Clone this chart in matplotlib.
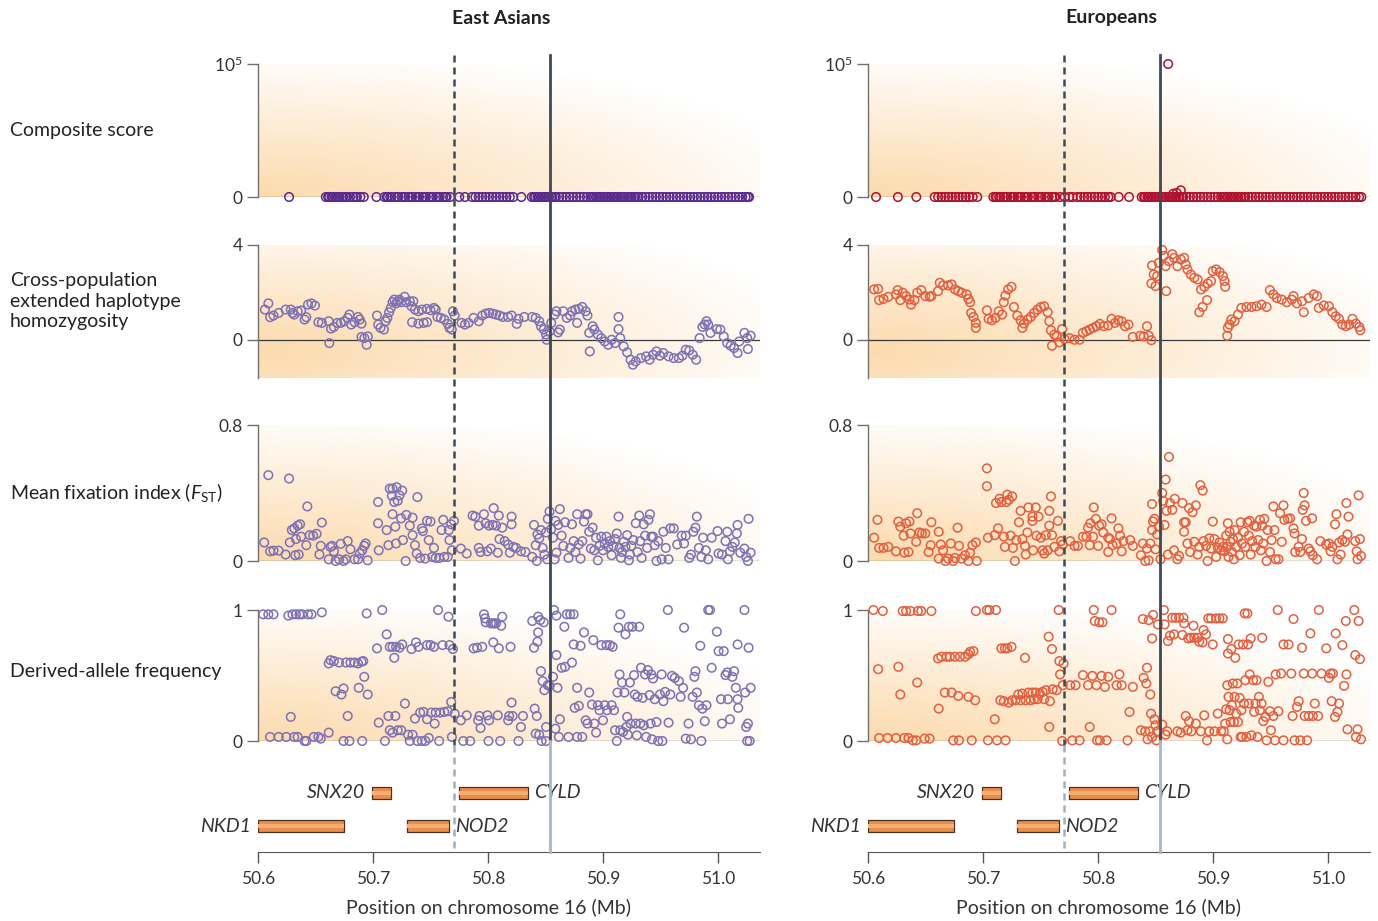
import numpy as np
import matplotlib.pyplot as plt
from matplotlib.patches import Rectangle

plt.rcParams['font.family'] = ['Lato', 'DejaVu Sans']
plt.rcParams['mathtext.fontset'] = 'custom'
plt.rcParams['mathtext.rm'] = 'Lato'
plt.rcParams['mathtext.it'] = 'Lato:italic'
plt.rcParams['mathtext.bf'] = 'Lato:bold'

# ---- data (position in Mb, value) ----
populations = ['East Asians', 'Europeans']
row_labels = ['Composite score', 'Cross-population\nextended haplotype\nhomozygosity',
              r'Mean fixation index ($F_{\mathrm{ST}}$)', 'Derived-allele frequency']
tick_pos = [50.6, 50.7, 50.8, 50.9, 51.0]
tick_lab = ['50.6', '50.7', '50.8', '50.9', '51.0']

# composite score: SNP positions that sit at 0, plus the few non-zero ones
comp_ea_pos = [50.627, 50.659, 50.661, 50.662, 50.664, 50.665, 50.667, 50.668, 50.670, 50.671,
               50.673, 50.674, 50.676, 50.677, 50.680, 50.683, 50.685, 50.686, 50.689, 50.692,
               50.703, 50.710, 50.712, 50.713, 50.715, 50.716, 50.719, 50.721, 50.722, 50.725,
               50.727, 50.728, 50.731, 50.733, 50.734, 50.737, 50.739, 50.740, 50.743, 50.745,
               50.746, 50.749, 50.751, 50.752, 50.755, 50.757, 50.758, 50.761, 50.763, 50.764,
               50.767, 50.775, 50.780, 50.786, 50.789, 50.792, 50.795, 50.798, 50.801, 50.804,
               50.807, 50.810, 50.813, 50.816, 50.819, 50.822, 50.829, 50.838, 50.840, 50.841,
               50.843, 50.844, 50.846, 50.847, 50.849, 50.850, 50.852, 50.853, 50.855, 50.856,
               50.858, 50.859, 50.862, 50.865, 50.868, 50.871, 50.874, 50.877, 50.880, 50.883,
               50.886, 50.889, 50.891, 50.892, 50.894, 50.895, 50.897, 50.898, 50.900, 50.901,
               50.903, 50.904, 50.906, 50.907, 50.909, 50.910, 50.912, 50.913, 50.915, 50.916,
               50.918, 50.919, 50.921, 50.922, 50.924, 50.925, 50.927, 50.928, 50.930, 50.931,
               50.934, 50.937, 50.940, 50.943, 50.946, 50.949, 50.952, 50.955, 50.958, 50.961,
               50.964, 50.967, 50.970, 50.973, 50.976, 50.979, 50.982, 50.985, 50.988, 50.991,
               50.994, 50.997, 51.000, 51.003, 51.006, 51.009, 51.012, 51.015, 51.018, 51.021,
               51.024, 51.026, 51.027]
comp_ea_peaks = []
comp_eu_pos = [50.607, 50.626, 50.642, 50.658, 50.661, 50.664, 50.667, 50.670, 50.673, 50.676,
               50.679, 50.682, 50.685, 50.688, 50.691, 50.695, 50.709, 50.711, 50.712, 50.714,
               50.715, 50.718, 50.720, 50.721, 50.724, 50.726, 50.727, 50.730, 50.732, 50.733,
               50.736, 50.738, 50.739, 50.742, 50.744, 50.745, 50.748, 50.750, 50.751, 50.754,
               50.756, 50.757, 50.760, 50.762, 50.763, 50.767, 50.771, 50.775, 50.778, 50.782,
               50.785, 50.788, 50.791, 50.794, 50.797, 50.800, 50.803, 50.806, 50.809, 50.811,
               50.818, 50.827, 50.838, 50.840, 50.841, 50.843, 50.844, 50.846, 50.847, 50.849,
               50.850, 50.852, 50.853, 50.855, 50.856, 50.858, 50.859, 50.861, 50.862, 50.864,
               50.865, 50.867, 50.868, 50.870, 50.871, 50.873, 50.874, 50.877, 50.880, 50.883,
               50.886, 50.889, 50.892, 50.895, 50.898, 50.901, 50.904, 50.907, 50.909, 50.910,
               50.912, 50.913, 50.915, 50.916, 50.918, 50.919, 50.921, 50.922, 50.924, 50.925,
               50.927, 50.928, 50.931, 50.934, 50.937, 50.940, 50.943, 50.946, 50.949, 50.952,
               50.955, 50.958, 50.961, 50.964, 50.967, 50.970, 50.973, 50.976, 50.979, 50.982,
               50.985, 50.988, 50.991, 50.994, 50.997, 51.000, 51.003, 51.006, 51.009, 51.012,
               51.015, 51.018, 51.021, 51.024, 51.027, 51.029]
comp_eu_peaks = [(50.861, 100000), (50.8655, 2500), (50.8685, 3000), (50.872, 5000)]

xpehh_ea = [(50.606, 1.28), (50.609, 1.54), (50.6105, 0.96), (50.6135, 1.03), (50.618, 1.14),
            (50.624, 1.28), (50.6285, 1.28), (50.630, 1.14), (50.6315, 1.07), (50.6345, 1.21),
            (50.6375, 1.24), (50.6405, 0.86), (50.642, 0.96), (50.6435, 1.49), (50.6465, 1.54),
            (50.6495, 1.45), (50.6525, 0.75), (50.6555, 0.72), (50.6615, 0.79), (50.662, -0.13),
            (50.6635, 0.48), (50.666, 0.55), (50.669, 0.72), (50.672, 0.72), (50.675, 0.79),
            (50.678, 0.93), (50.6795, 1.07), (50.681, 0.65), (50.684, 0.75), (50.687, 0.97),
            (50.6885, 0.86), (50.690, 0.69), (50.690, 0.13), (50.6925, 0.08), (50.6945, -0.20),
            (50.6955, 0.15), (50.7035, 1.03), (50.7045, 0.65), (50.7065, 0.51), (50.7095, 0.44),
            (50.711, 0.79), (50.7125, 0.93), (50.714, 1.17), (50.7155, 1.35), (50.717, 1.59),
            (50.7185, 1.70), (50.720, 1.54), (50.7215, 1.63), (50.723, 1.70), (50.7245, 1.59),
            (50.7275, 1.82), (50.729, 1.59), (50.732, 1.63), (50.7335, 1.42), (50.734, 0.75),
            (50.735, 1.63), (50.7365, 1.28), (50.7395, 1.21), (50.7395, 0.69), (50.7425, 1.28),
            (50.744, 0.72), (50.747, 0.75), (50.747, 1.31), (50.750, 1.25), (50.753, 1.35),
            (50.7545, 1.28), (50.756, 0.97), (50.759, 0.93), (50.762, 0.86), (50.765, 0.68),
            (50.7665, 0.51), (50.7685, 0.44), (50.7695, 1.21), (50.771, 1.03), (50.777, 0.72),
            (50.780, 0.65), (50.783, 0.72), (50.7875, 0.93), (50.792, 0.79), (50.795, 1.03),
            (50.798, 1.11), (50.801, 1.14), (50.804, 1.11), (50.807, 1.07), (50.810, 1.03),
            (50.813, 0.97), (50.8175, 0.97), (50.8205, 1.03), (50.825, 0.68), (50.8265, 0.89),
            (50.8315, 0.97), (50.8385, 0.97), (50.8415, 0.93), (50.8445, 0.79), (50.846, 0.58),
            (50.8485, 0.44), (50.8505, 0.23), (50.851, 0.01), (50.8535, 0.37), (50.855, 0.72),
            (50.858, 1.07), (50.8595, 1.21), (50.861, 0.32), (50.8625, 0.44), (50.8655, 1.21),
            (50.8685, 0.93), (50.8715, 1.03), (50.873, 1.21), (50.876, 1.28), (50.8775, 0.72),
            (50.879, 1.31), (50.882, 1.39), (50.885, 1.21), (50.8865, 1.03), (50.888, 0.30),
            (50.8885, -0.48), (50.891, 0.58), (50.8925, 0.44), (50.8955, 0.23), (50.8985, 0.08),
            (50.9015, -0.06), (50.9045, -0.20), (50.9075, 0.01), (50.9105, -0.13), (50.9135, 0.97),
            (50.9135, 0.46), (50.915, 0.08), (50.918, -0.27), (50.921, -0.52), (50.924, -0.83),
            (50.926, -1.04), (50.9285, -0.90), (50.933, -0.76), (50.9375, -0.69), (50.9405, -0.83),
            (50.9435, -0.62), (50.9465, -0.48), (50.9495, -0.66), (50.9525, -0.55), (50.957, -0.69),
            (50.9615, -0.76), (50.966, -0.76), (50.969, -0.66), (50.972, -0.41), (50.975, -0.44),
            (50.978, -0.62), (50.981, -0.83), (50.984, 0.08), (50.9865, 0.55), (50.9885, 0.65),
            (50.990, 0.79), (50.9915, 0.65), (50.9935, 0.30), (50.999, 0.46), (51.002, 0.44),
            (51.005, 0.15), (51.008, -0.13), (51.011, -0.24), (51.014, -0.34), (51.017, -0.55),
            (51.0185, -0.06), (51.023, 0.30), (51.0254, 0.08), (51.026, -0.38), (51.0284, 0.18)]

xpehh_eu = [(50.6053, 2.13), (50.6088, 2.15), (50.6097, 1.68), (50.6135, 1.73), (50.6176, 1.82),
            (50.6243, 1.92), (50.6258, 2.10), (50.6281, 1.68), (50.6302, 1.99), (50.6331, 1.85),
            (50.636, 1.70), (50.6375, 1.49), (50.6404, 1.68), (50.6428, 1.99), (50.6463, 2.10),
            (50.6498, 1.85), (50.6536, 1.82), (50.6551, 1.85), (50.6609, 2.06), (50.6624, 2.41),
            (50.6653, 2.30), (50.6697, 2.30), (50.6727, 2.34), (50.6756, 2.13), (50.6785, 2.06),
            (50.6815, 1.99), (50.6858, 1.92), (50.6873, 1.73), (50.6888, 1.59), (50.6897, 1.14),
            (50.6917, 0.97), (50.6938, 0.72), (50.6938, 0.51), (50.7034, 1.25), (50.7049, 0.89),
            (50.7078, 0.83), (50.7108, 0.93), (50.7137, 1.21), (50.7166, 1.07), (50.7181, 1.59),
            (50.7195, 1.87), (50.7219, 2.13), (50.7248, 2.24), (50.7269, 1.39), (50.7298, 1.03),
            (50.7327, 0.83), (50.7342, 0.51), (50.7357, 0.69), (50.7386, 0.86), (50.7415, 0.97),
            (50.7444, 1.14), (50.7474, 1.28), (50.7503, 1.39), (50.7532, 1.42), (50.7562, 1.17),
            (50.7576, 0.79), (50.7591, 0.41), (50.760, -0.24), (50.762, 0.23), (50.7641, 0.15),
            (50.7664, -0.10), (50.7688, 0.46), (50.7708, 0.04), (50.7752, 0.08), (50.7796, 0.01),
            (50.784, 0.01), (50.7869, 0.30), (50.7899, 0.37), (50.7928, 0.44), (50.7957, 0.51),
            (50.7987, 0.58), (50.8016, 0.68), (50.8051, 0.58), (50.8089, 0.61), (50.8118, 0.89),
            (50.8148, 0.72), (50.8177, 0.83), (50.8206, 0.79), (50.8235, 0.58), (50.8265, 0.65),
            (50.8303, 0.13), (50.8367, 0.18), (50.8397, 0.15), (50.8426, 0.58), (50.8441, 0.18),
            (50.8464, -0.01), (50.847, 3.14), (50.8464, 2.38), (50.8485, 2.76), (50.850, 2.27),
            (50.8514, 2.69), (50.8529, 3.25), (50.8558, 3.79), (50.8573, 3.54), (50.8588, 3.11),
            (50.8593, 2.06), (50.8617, 3.32), (50.8646, 3.61), (50.8661, 3.46), (50.869, 3.11),
            (50.872, 3.39), (50.8749, 3.46), (50.8763, 3.18), (50.8778, 2.97), (50.8807, 2.76),
            (50.8837, 2.62), (50.8866, 2.55), (50.8881, 1.17), (50.8896, 2.13), (50.891, 1.39),
            (50.8925, 2.24), (50.8948, 1.68), (50.8954, 2.38), (50.8983, 2.48), (50.8998, 2.90),
            (50.9028, 2.97), (50.9057, 2.86), (50.9086, 2.69), (50.9101, 2.48), (50.9106, 2.24),
            (50.9124, 0.18), (50.9129, 0.51), (50.9144, 0.65), (50.9159, 0.86), (50.9188, 0.79),
            (50.9217, 1.07), (50.9247, 1.35), (50.9291, 1.39), (50.9335, 1.39), (50.9378, 1.42),
            (50.9422, 1.49), (50.9466, 1.39), (50.9495, 2.10), (50.9525, 1.92), (50.9554, 1.77),
            (50.9598, 1.70), (50.9642, 1.59), (50.9686, 1.70), (50.970, 1.85), (50.973, 1.54),
            (50.9774, 1.63), (50.9789, 1.17), (50.9832, 1.77), (50.9876, 1.92), (50.9905, 1.85),
            (50.992, 1.35), (50.9964, 1.45), (51.0008, 1.42), (51.0038, 1.17), (51.0067, 1.00),
            (51.0096, 0.89), (51.0125, 0.65), (51.0155, 0.58), (51.0184, 0.65), (51.0213, 0.89),
            (51.0243, 0.69), (51.0272, 0.55), (51.0281, 0.41)]

fst_ea = [(50.6054, 0.109), (50.609, 0.505), (50.6105, 0.057), (50.6135, 0.061), (50.618, 0.061),
          (50.624, 0.038), (50.627, 0.485), (50.6276, 0.109), (50.6294, 0.182), (50.6315, 0.192),
          (50.633, 0.129), (50.6345, 0.208), (50.6366, 0.216), (50.6375, 0.143), (50.6324, 0.034),
          (50.6354, 0.038), (50.642, 0.093), (50.6429, 0.321), (50.645, 0.152), (50.648, 0.149),
          (50.651, 0.160), (50.6534, 0.038), (50.6546, 0.089), (50.6555, 0.226), (50.6615, 0.010),
          (50.663, 0.083), (50.6645, 0.089), (50.666, 0.057), (50.6675, 0.0), (50.6705, 0.010),
          (50.672, 0.101), (50.6744, 0.0), (50.6765, 0.010), (50.678, 0.117), (50.6804, 0.069),
          (50.684, 0.010), (50.687, 0.010), (50.6885, 0.044), (50.6906, 0.063), (50.6924, 0.089),
          (50.6936, 0.103), (50.6954, 0.004), (50.7044, 0.347), (50.7044, 0.222), (50.705, 0.063),
          (50.7119, 0.182), (50.7134, 0.093), (50.7146, 0.426), (50.717, 0.426), (50.7164, 0.384),
          (50.717, 0.275), (50.7185, 0.347), (50.7194, 0.202), (50.720, 0.103), (50.7206, 0.434),
          (50.7215, 0.354), (50.723, 0.386), (50.7245, 0.251), (50.7254, 0.414), (50.726, 0.123),
          (50.7284, 0.0), (50.729, 0.271), (50.732, 0.208), (50.7344, 0.255), (50.7344, 0.152),
          (50.7365, 0.093), (50.738, 0.044), (50.7386, 0.376), (50.741, 0.018), (50.7425, 0.192),
          (50.7434, 0.176), (50.7455, 0.014), (50.747, 0.236), (50.7485, 0.123), (50.750, 0.232),
          (50.7515, 0.024), (50.753, 0.077), (50.7545, 0.018), (50.7575, 0.018), (50.7596, 0.182),
          (50.7611, 0.242), (50.762, 0.024), (50.765, 0.024), (50.7659, 0.182), (50.7665, 0.123),
          (50.768, 0.216), (50.7686, 0.063), (50.7704, 0.236), (50.7764, 0.073), (50.7815, 0.044),
          (50.7866, 0.267), (50.789, 0.261), (50.792, 0.208), (50.792, 0.077), (50.7935, 0.053),
          (50.7965, 0.275), (50.798, 0.222), (50.7995, 0.057), (50.801, 0.208), (50.8025, 0.073),
          (50.804, 0.212), (50.8049, 0.311), (50.807, 0.208), (50.8085, 0.049), (50.8094, 0.267),
          (50.810, 0.129), (50.8124, 0.196), (50.8145, 0.117), (50.8175, 0.097), (50.819, 0.049),
          (50.8205, 0.261), (50.8205, 0.216), (50.822, 0.083), (50.8244, 0.077), (50.8286, 0.057),
          (50.8325, 0.053), (50.8385, 0.024), (50.840, 0.212), (50.8415, 0.093), (50.8424, 0.0),
          (50.843, 0.156), (50.8445, 0.133), (50.846, 0.182), (50.8475, 0.077), (50.849, 0.038),
          (50.8505, 0.168), (50.8514, 0.010), (50.852, 0.248), (50.8535, 0.291), (50.855, 0.188),
          (50.8565, 0.137), (50.858, 0.010), (50.8586, 0.236), (50.8595, 0.049), (50.861, 0.212),
          (50.8625, 0.305), (50.864, 0.149), (50.8655, 0.089), (50.867, 0.228), (50.870, 0.018),
          (50.8715, 0.077), (50.873, 0.216), (50.8745, 0.117), (50.876, 0.053), (50.8775, 0.275),
          (50.879, 0.097), (50.8805, 0.014), (50.882, 0.117), (50.8835, 0.232), (50.885, 0.275),
          (50.8865, 0.275), (50.888, 0.172), (50.8895, 0.073), (50.891, 0.196), (50.8925, 0.063),
          (50.894, 0.137), (50.8955, 0.004), (50.897, 0.089), (50.8985, 0.143), (50.900, 0.063),
          (50.9015, 0.103), (50.903, 0.143), (50.9045, 0.083), (50.906, 0.117), (50.9075, 0.034),
          (50.909, 0.089), (50.9105, 0.129), (50.912, 0.162), (50.9135, 0.261), (50.9144, 0.077),
          (50.9156, 0.018), (50.9165, 0.053), (50.918, 0.113), (50.9195, 0.083), (50.921, 0.152),
          (50.9225, 0.004), (50.9234, 0.038), (50.9246, 0.089), (50.9264, 0.123), (50.9285, 0.222),
          (50.930, 0.053), (50.9315, 0.267), (50.9324, 0.117), (50.9336, 0.018), (50.9354, 0.216),
          (50.9366, 0.149), (50.9384, 0.077), (50.9396, 0.242), (50.9408, 0.275), (50.942, 0.143),
          (50.9435, 0.143), (50.945, 0.093), (50.9465, 0.0), (50.948, 0.117), (50.951, 0.010),
          (50.9525, 0.172), (50.9546, 0.077), (50.957, 0.010), (50.9585, 0.192), (50.9615, 0.192),
          (50.9645, 0.097), (50.9684, 0.149), (50.9705, 0.103), (50.972, 0.149), (50.975, 0.018),
          (50.9765, 0.038), (50.9786, 0.172), (50.9804, 0.196), (50.9816, 0.261), (50.9834, 0.077),
          (50.9855, 0.024), (50.987, 0.137), (50.9894, 0.063), (50.9915, 0.010), (50.9945, 0.137),
          (50.9996, 0.176), (51.0005, 0.044), (51.0035, 0.038), (51.0065, 0.117), (51.008, 0.172),
          (51.0086, 0.010), (51.0104, 0.057), (51.0125, 0.083), (51.0146, 0.109), (51.0164, 0.162),
          (51.017, 0.212), (51.0194, 0.049), (51.023, 0.073), (51.0245, 0.024), (51.026, 0.0),
          (51.0266, 0.248), (51.0284, 0.049)]

fst_eu = [(50.6053, 0.137), (50.6082, 0.242), (50.6097, 0.077), (50.6135, 0.077), (50.6176, 0.083),
          (50.6243, 0.057), (50.6264, 0.232), (50.6281, 0.202), (50.631, 0.149), (50.6316, 0.049),
          (50.6331, 0.222), (50.6352, 0.053), (50.636, 0.232), (50.637, 0.162), (50.6419, 0.113),
          (50.6428, 0.281), (50.6448, 0.168), (50.6469, 0.162), (50.6498, 0.162), (50.6527, 0.053),
          (50.6545, 0.093), (50.6551, 0.228), (50.6615, 0.172), (50.6615, 0.014), (50.6633, 0.097),
          (50.6653, 0.063), (50.6674, 0.0), (50.6697, 0.014), (50.672, 0.103), (50.6741, 0.0),
          (50.6756, 0.018), (50.6779, 0.196), (50.6791, 0.089), (50.6815, 0.014), (50.6844, 0.034),
          (50.6873, 0.0), (50.6888, 0.049), (50.6908, 0.093), (50.6938, 0.109), (50.6946, 0.0),
          (50.7034, 0.545), (50.7034, 0.440), (50.7043, 0.137), (50.7102, 0.152), (50.7113, 0.341),
          (50.7131, 0.192), (50.7143, 0.366), (50.716, 0.347), (50.7181, 0.143), (50.719, 0.083),
          (50.7202, 0.347), (50.7211, 0.390), (50.7225, 0.360), (50.724, 0.149), (50.7254, 0.380),
          (50.726, 0.077), (50.7277, 0.0), (50.7289, 0.123), (50.7313, 0.228), (50.7327, 0.295),
          (50.7342, 0.129), (50.7365, 0.089), (50.7371, 0.038), (50.7386, 0.168), (50.7395, 0.315),
          (50.743, 0.261), (50.743, 0.236), (50.7436, 0.063), (50.7459, 0.315), (50.7465, 0.149),
          (50.7483, 0.261), (50.7503, 0.137), (50.7518, 0.063), (50.7532, 0.044), (50.7547, 0.152),
          (50.7562, 0.063), (50.7576, 0.295), (50.7576, 0.208), (50.7591, 0.380), (50.760, 0.152),
          (50.762, 0.083), (50.7652, 0.236), (50.7664, 0.057), (50.7679, 0.117), (50.7694, 0.097),
          (50.7758, 0.117), (50.7796, 0.089), (50.7825, 0.089), (50.7869, 0.143), (50.7899, 0.143),
          (50.7913, 0.196), (50.7928, 0.093), (50.7934, 0.222), (50.7957, 0.143), (50.7963, 0.315),
          (50.7981, 0.248), (50.8001, 0.089), (50.801, 0.208), (50.8031, 0.216), (50.8045, 0.168),
          (50.8089, 0.053), (50.8089, 0.137), (50.8104, 0.129), (50.8118, 0.251), (50.8127, 0.093),
          (50.8162, 0.103), (50.8177, 0.192), (50.8192, 0.149), (50.8206, 0.057), (50.8221, 0.117),
          (50.828, 0.123), (50.8303, 0.089), (50.8373, 0.034), (50.839, 0.103), (50.8411, 0.0),
          (50.8426, 0.073), (50.8441, 0.004), (50.8455, 0.103), (50.847, 0.335), (50.847, 0.182),
          (50.8479, 0.232), (50.8491, 0.248), (50.850, 0.069), (50.8514, 0.156), (50.8529, 0.202),
          (50.8543, 0.010), (50.8558, 0.400), (50.8567, 0.354), (50.8579, 0.212), (50.8588, 0.479),
          (50.8596, 0.295), (50.8608, 0.038), (50.8617, 0.612), (50.8626, 0.341), (50.8646, 0.301),
          (50.8661, 0.063), (50.8667, 0.366), (50.869, 0.010), (50.8705, 0.030), (50.8734, 0.341),
          (50.8749, 0.228), (50.8749, 0.172), (50.8763, 0.228), (50.8778, 0.103), (50.8792, 0.311),
          (50.8801, 0.053), (50.8822, 0.287), (50.8837, 0.113), (50.8851, 0.327), (50.8866, 0.038),
          (50.8881, 0.083), (50.889, 0.446), (50.891, 0.414), (50.8918, 0.117), (50.8939, 0.089),
          (50.8953, 0.0), (50.8968, 0.133), (50.8983, 0.073), (50.8998, 0.232), (50.9012, 0.129),
          (50.9027, 0.024), (50.9041, 0.077), (50.9056, 0.109), (50.9071, 0.063), (50.9085, 0.083),
          (50.910, 0.057), (50.9115, 0.149), (50.9124, 0.083), (50.9129, 0.222), (50.9135, 0.024),
          (50.9144, 0.172), (50.9153, 0.113), (50.9164, 0.053), (50.9173, 0.129), (50.9182, 0.010),
          (50.9188, 0.182), (50.9202, 0.083), (50.9217, 0.137), (50.9232, 0.034), (50.9241, 0.228),
          (50.9252, 0.103), (50.927, 0.172), (50.9281, 0.083), (50.9299, 0.228), (50.9311, 0.149),
          (50.9319, 0.236), (50.9328, 0.038), (50.934, 0.117), (50.9358, 0.208), (50.9369, 0.083),
          (50.9378, 0.202), (50.9393, 0.123), (50.9408, 0.242), (50.9416, 0.063), (50.9428, 0.208),
          (50.9437, 0.103), (50.9446, 0.248), (50.9466, 0.0), (50.9475, 0.182), (50.9495, 0.053),
          (50.951, 0.123), (50.9525, 0.321), (50.9534, 0.182), (50.9545, 0.010), (50.9569, 0.010),
          (50.9583, 0.281), (50.9598, 0.113), (50.9613, 0.327), (50.9621, 0.242), (50.9651, 0.248),
          (50.9671, 0.251), (50.970, 0.192), (50.9709, 0.162), (50.9715, 0.053), (50.9745, 0.083),
          (50.9759, 0.053), (50.9774, 0.129), (50.978, 0.301), (50.9789, 0.400), (50.9797, 0.327),
          (50.9809, 0.236), (50.9832, 0.073), (50.9847, 0.057), (50.9862, 0.251), (50.9868, 0.034),
          (50.9905, 0.010), (50.9934, 0.117), (50.9984, 0.097), (51.0008, 0.103), (51.0023, 0.057),
          (51.0038, 0.083), (51.0061, 0.216), (51.0073, 0.275), (51.0082, 0.010), (51.0096, 0.109),
          (51.011, 0.038), (51.0125, 0.123), (51.0148, 0.113), (51.016, 0.341), (51.0169, 0.156),
          (51.0178, 0.261), (51.0237, 0.117), (51.0249, 0.057), (51.0257, 0.010), (51.0266, 0.386),
          (51.0278, 0.129), (51.0287, 0.030)]

daf_ea = [(50.6045, 0.967), (50.609, 0.967), (50.6135, 0.967), (50.6105, 0.031), (50.618, 0.031),
          (50.6246, 0.031), (50.6264, 0.957), (50.6285, 0.184), (50.630, 0.967), (50.6315, 0.031),
          (50.633, 0.967), (50.6345, 0.031), (50.636, 0.967), (50.6384, 0.967), (50.6405, 0.0),
          (50.642, 0.0), (50.6435, 0.967), (50.6465, 0.967), (50.6486, 0.031), (50.6525, 0.031),
          (50.6546, 0.018), (50.6555, 0.982), (50.6615, 0.064), (50.6615, 0.592), (50.663, 0.617),
          (50.666, 0.610), (50.6675, 0.380), (50.6705, 0.599), (50.6726, 0.355), (50.6744, 0.401),
          (50.6744, 0.0), (50.6765, 0.599), (50.678, 0.191), (50.6795, 0.0), (50.6804, 0.599),
          (50.684, 0.599), (50.687, 0.592), (50.6876, 0.406), (50.690, 0.605), (50.6906, 0.0),
          (50.6915, 0.610), (50.6924, 0.490), (50.6945, 0.974), (50.6954, 0.355), (50.7035, 0.707),
          (50.705, 0.140), (50.708, 1.0), (50.7104, 0.0), (50.7119, 0.814), (50.7134, 0.191),
          (50.7146, 0.719), (50.7146, 0.082), (50.717, 0.719), (50.717, 0.064), (50.7185, 0.635),
          (50.7194, 0.191), (50.720, 0.719), (50.7215, 0.082), (50.723, 0.712), (50.7245, 0.082),
          (50.7254, 0.737), (50.7278, 0.286), (50.7305, 0.048), (50.732, 0.0), (50.7335, 0.702),
          (50.7344, 0.048), (50.7365, 0.171), (50.7374, 0.753), (50.7386, 0.0), (50.7395, 0.719),
          (50.741, 0.217), (50.7425, 0.0), (50.744, 0.222), (50.7455, 0.0), (50.747, 0.732),
          (50.747, 0.166), (50.7485, 0.023), (50.750, 0.732), (50.7506, 0.217), (50.753, 0.719),
          (50.7536, 0.133), (50.7545, 0.217), (50.7566, 1.0), (50.7575, 0.0), (50.7584, 0.217),
          (50.7605, 0.732), (50.762, 0.222), (50.765, 0.227), (50.7656, 0.949), (50.7665, 0.732),
          (50.768, 0.298), (50.7686, 0.031), (50.7695, 0.702), (50.771, 0.209), (50.7764, 0.158),
          (50.7785, 0.0), (50.7815, 0.196), (50.7845, 0.0), (50.7875, 0.707), (50.7905, 0.712),
          (50.7914, 0.158), (50.7926, 0.191), (50.7935, 0.099), (50.795, 0.719), (50.7965, 0.967),
          (50.7974, 0.936), (50.798, 0.906), (50.7995, 0.196), (50.8004, 0.0), (50.801, 0.158),
          (50.8025, 0.898), (50.804, 0.898), (50.8046, 0.753), (50.8055, 0.898), (50.807, 0.898),
          (50.8085, 0.196), (50.8094, 0.707), (50.8106, 0.0), (50.8115, 0.880), (50.8124, 0.949),
          (50.8175, 0.158), (50.8184, 0.191), (50.8196, 0.719), (50.8205, 0.293), (50.8214, 0.191),
          (50.8265, 0.0), (50.8286, 0.107), (50.8304, 0.191), (50.8385, 0.916), (50.840, 0.712),
          (50.8406, 0.247), (50.8415, 0.056), (50.8424, 0.191), (50.843, 0.758), (50.8436, 0.949),
          (50.8436, 0.829), (50.8445, 0.048), (50.8454, 0.923), (50.846, 0.533), (50.8466, 0.0),
          (50.8475, 0.457), (50.8484, 0.906), (50.849, 0.388), (50.8505, 0.107), (50.8505, 0.0),
          (50.852, 0.426), (50.8535, 0.421), (50.8565, 0.490), (50.8574, 1.0), (50.8586, 0.094),
          (50.8595, 0.957), (50.8595, 0.656), (50.8604, 0.406), (50.8616, 0.031), (50.8625, 0.166),
          (50.864, 0.559), (50.8664, 0.872), (50.867, 0.566), (50.8685, 0.967), (50.870, 0.031),
          (50.8715, 0.967), (50.873, 0.599), (50.8745, 0.967), (50.8745, 0.737), (50.8754, 0.253),
          (50.8775, 0.406), (50.8775, 0.031), (50.879, 0.268), (50.8805, 0.727), (50.882, 0.031),
          (50.8835, 0.829), (50.885, 0.158), (50.8865, 0.133), (50.888, 0.370), (50.8904, 0.278),
          (50.8916, 0.770), (50.8925, 0.133), (50.894, 0.064), (50.8955, 0.273), (50.897, 0.235),
          (50.8985, 0.732), (50.900, 0.158), (50.9015, 0.273), (50.903, 0.732), (50.9036, 0.235),
          (50.906, 0.732), (50.9075, 0.273), (50.9084, 0.719), (50.9096, 0.235), (50.9105, 0.082),
          (50.912, 0.0), (50.9126, 0.370), (50.9135, 0.865), (50.9144, 0.508), (50.915, 0.967),
          (50.915, 0.082), (50.9165, 0.446), (50.9174, 0.069), (50.9186, 0.370), (50.9195, 0.814),
          (50.9204, 0.107), (50.921, 0.184), (50.9216, 0.048), (50.9225, 0.872), (50.9234, 0.446),
          (50.924, 0.133), (50.9255, 0.872), (50.927, 0.503), (50.9276, 0.355), (50.9285, 0.133),
          (50.9294, 0.043), (50.930, 0.337), (50.9315, 0.872), (50.9324, 0.133), (50.933, 0.559),
          (50.9345, 0.329), (50.9354, 0.120), (50.9366, 0.508), (50.9375, 0.031), (50.939, 0.541),
          (50.9405, 0.350), (50.9414, 0.133), (50.942, 0.508), (50.9426, 0.013), (50.9435, 0.477),
          (50.945, 0.319), (50.9465, 0.145), (50.948, 0.0), (50.9495, 0.355), (50.951, 0.508),
          (50.9516, 0.0), (50.9525, 0.304), (50.954, 0.375), (50.9564, 1.0), (50.957, 0.140),
          (50.9585, 0.355), (50.960, 0.497), (50.9624, 0.482), (50.966, 0.457), (50.9675, 0.337),
          (50.9696, 0.406), (50.9705, 0.865), (50.972, 0.018), (50.9744, 0.133), (50.9765, 0.013),
          (50.978, 0.337), (50.9795, 0.490), (50.9804, 0.533), (50.9816, 0.370), (50.9834, 0.273),
          (50.9846, 0.727), (50.9855, 0.0), (50.9864, 0.247), (50.9885, 0.151), (50.990, 0.273),
          (50.9915, 1.0), (50.993, 1.0), (50.9945, 0.559), (50.999, 0.834), (51.0005, 0.686),
          (51.0026, 0.319), (51.0035, 0.133), (51.005, 0.686), (51.0065, 0.503), (51.008, 0.523),
          (51.0086, 0.319), (51.0104, 0.166), (51.0125, 0.490), (51.014, 0.533), (51.0155, 0.406),
          (51.017, 0.737), (51.017, 0.319), (51.0176, 0.253), (51.023, 1.0), (51.0236, 0.370),
          (51.0245, 0.107), (51.0254, 0.0), (51.026, 0.133), (51.0266, 0.712), (51.0275, 0.0),
          (51.0284, 0.406)]

daf_eu = [(50.6047, 1.0), (50.6088, 0.548), (50.6097, 0.023), (50.6129, 0.992), (50.617, 0.023),
          (50.6243, 0.023), (50.6264, 0.566), (50.6281, 0.355), (50.6302, 0.992), (50.6316, 0.023),
          (50.6331, 0.992), (50.6352, 0.023), (50.637, 0.992), (50.639, 0.005), (50.6419, 0.005),
          (50.6428, 0.446), (50.6434, 0.992), (50.6463, 0.992), (50.6492, 0.018), (50.6536, 0.018),
          (50.6551, 0.992), (50.6609, 0.630), (50.6615, 0.247), (50.6638, 0.643), (50.6668, 0.370),
          (50.6683, 0.643), (50.6712, 0.643), (50.6727, 0.370), (50.6741, 0.005), (50.6756, 0.643),
          (50.6785, 0.344), (50.6791, 0.005), (50.680, 0.643), (50.6844, 0.643), (50.6873, 0.661),
          (50.6873, 0.337), (50.6888, 0.681), (50.6902, 0.005), (50.6917, 0.686), (50.6932, 0.311),
          (50.6938, 0.992), (50.7034, 1.0), (50.7043, 0.005), (50.7055, 1.0), (50.7102, 0.166),
          (50.7113, 1.0), (50.7122, 0.005), (50.7151, 0.311), (50.716, 0.707), (50.7181, 0.304),
          (50.719, 0.707), (50.7196, 0.005), (50.7211, 0.707), (50.7225, 0.293), (50.7248, 0.719),
          (50.7254, 0.311), (50.7283, 0.311), (50.7307, 0.355), (50.7327, 0.311), (50.7342, 0.362),
          (50.7365, 0.635), (50.7371, 0.311), (50.7395, 0.370), (50.7415, 0.311), (50.743, 0.370),
          (50.7444, 0.319), (50.7459, 0.370), (50.7474, 0.319), (50.7494, 0.362), (50.7518, 0.375),
          (50.7532, 0.319), (50.7547, 0.388), (50.7571, 0.796), (50.7576, 0.107), (50.7582, 0.304),
          (50.760, 0.702), (50.7606, 0.395), (50.7641, 0.388), (50.7658, 1.0), (50.7664, 0.610),
          (50.767, 0.508), (50.7688, 0.0), (50.7694, 0.426), (50.770, 0.592), (50.7758, 0.426),
          (50.7776, 0.005), (50.7805, 0.426), (50.784, 0.005), (50.7869, 0.503), (50.7913, 0.426),
          (50.7928, 0.107), (50.7951, 0.497), (50.7963, 1.0), (50.7972, 0.916), (50.7987, 0.426),
          (50.7992, 0.005), (50.801, 0.906), (50.8016, 0.005), (50.8031, 0.497), (50.8039, 0.906),
          (50.806, 0.413), (50.8075, 0.005), (50.8089, 0.490), (50.8118, 1.0), (50.8162, 0.426),
          (50.8186, 0.508), (50.8206, 0.426), (50.8256, 0.005), (50.8274, 0.222), (50.8303, 0.413),
          (50.8373, 0.082), (50.839, 0.931), (50.8397, 0.482), (50.8411, 0.074), (50.842, 0.439),
          (50.8426, 0.559), (50.8431, 0.013), (50.8441, 0.923), (50.845, 0.074), (50.8455, 0.355),
          (50.8461, 0.209), (50.847, 0.783), (50.847, 0.031), (50.8479, 0.962), (50.8491, 0.166),
          (50.850, 0.120), (50.8508, 0.005), (50.8514, 0.074), (50.852, 0.890), (50.8558, 0.125),
          (50.8573, 1.0), (50.8579, 0.890), (50.8588, 0.048), (50.8602, 0.074), (50.8608, 0.763),
          (50.8626, 0.804), (50.8646, 0.941), (50.8661, 0.814), (50.8675, 0.941), (50.869, 0.074),
          (50.8705, 0.941), (50.8719, 0.064), (50.8734, 0.809), (50.8743, 0.941), (50.8749, 0.898),
          (50.8763, 0.191), (50.8778, 0.082), (50.8784, 0.783), (50.8792, 0.151), (50.8807, 0.788),
          (50.8812, 0.074), (50.883, 0.880), (50.8836, 0.788), (50.8851, 0.133), (50.8866, 0.788),
          (50.888, 0.758), (50.8895, 0.074), (50.891, 0.753), (50.8918, 0.847), (50.8924, 0.196),
          (50.8939, 0.814), (50.8948, 0.005), (50.8959, 0.936), (50.8968, 0.074), (50.8983, 0.936),
          (50.8998, 0.737), (50.9012, 0.074), (50.9027, 0.936), (50.9041, 0.209), (50.9056, 0.936),
          (50.9071, 0.074), (50.9085, 0.936), (50.9094, 0.074), (50.9106, 0.133), (50.9115, 0.242),
          (50.9124, 0.426), (50.9124, 0.013), (50.913, 0.778), (50.913, 0.668), (50.9135, 0.337),
          (50.9144, 0.235), (50.9153, 0.145), (50.9159, 0.702), (50.9164, 0.273), (50.9173, 0.439),
          (50.9182, 0.145), (50.9188, 0.337), (50.9194, 0.635), (50.9202, 0.209), (50.9211, 0.439),
          (50.9217, 0.145), (50.9223, 0.737), (50.9232, 0.329), (50.9241, 0.031), (50.9247, 0.235),
          (50.9252, 0.031), (50.9261, 0.737), (50.927, 0.286), (50.9276, 0.974), (50.9281, 0.464),
          (50.929, 0.031), (50.9299, 0.974), (50.9305, 0.737), (50.9311, 0.286), (50.9319, 0.508),
          (50.9328, 0.783), (50.9334, 0.043), (50.9349, 0.464), (50.9358, 0.222), (50.9369, 0.286),
          (50.9378, 0.464), (50.9387, 0.031), (50.9399, 0.337), (50.9408, 0.235), (50.9422, 0.286),
          (50.9428, 0.788), (50.9437, 0.151), (50.9457, 0.184), (50.9466, 0.005), (50.9481, 0.452),
          (50.9495, 0.227), (50.9504, 0.082), (50.9525, 0.191), (50.9539, 0.005), (50.9545, 0.508),
          (50.9563, 1.0), (50.9569, 0.227), (50.9592, 0.515), (50.9613, 0.005), (50.9613, 0.737),
          (50.9657, 0.737), (50.9681, 0.515), (50.9692, 0.191), (50.970, 0.931), (50.9709, 0.005),
          (50.973, 0.260), (50.9745, 0.304), (50.9759, 0.005), (50.9774, 0.712), (50.9789, 0.515),
          (50.9797, 0.191), (50.9818, 0.005), (50.9832, 0.191), (50.9847, 0.821), (50.9862, 0.515),
          (50.9868, 0.191), (50.9885, 0.286), (50.9914, 0.191), (50.992, 1.0), (50.9943, 0.515),
          (50.9985, 0.707), (51.0008, 0.482), (51.0023, 0.515), (51.0032, 0.304), (51.0043, 0.515),
          (51.0061, 0.184), (51.0067, 0.821), (51.0082, 0.222), (51.0096, 0.286), (51.0125, 0.732),
          (51.014, 0.421), (51.0155, 0.916), (51.016, 0.508), (51.0169, 0.089), (51.0228, 1.0),
          (51.0237, 0.656), (51.0243, 0.031), (51.0257, 0.089), (51.0266, 0.916), (51.0278, 0.625),
          (51.0287, 0.013)]

genes = ['SNX20', 'CYLD', 'NKD1', 'NOD2']
gene_start = [50.699, 50.775, 50.600, 50.730]
gene_end = [50.716, 50.835, 50.675, 50.766]
gene_row = [1, 1, 0, 0]
gene_label_side = ['left', 'right', 'left', 'right']

nod2_line = 50.770
cyld_line = 50.854

# ---- figure ----
W, H = 1378, 921
fig = plt.figure(figsize=(W / 100, H / 100), dpi=100)
X0, X1 = 50.6, 50.6 + 502 / 1150


def add_ax(left, top, right, bottom):
    return fig.add_axes([left / W, 1 - bottom / H, (right - left) / W, (bottom - top) / H])


def peach(ax, ylim, cy=0.0):
    gx, gy = np.meshgrid(np.linspace(0, 1, 240), np.linspace(0, 1, 120))
    r = np.sqrt((gx / 1.15) ** 2 + ((gy - cy) / 1.1) ** 2)
    img = np.zeros((120, 240, 4))
    img[..., 0], img[..., 1], img[..., 2] = 0.99, 0.85, 0.66
    img[..., 3] = np.clip(1 - r, 0, 1) * 0.95
    ax.imshow(img, extent=[X0, X1, ylim[0], ylim[1]], origin='lower', aspect='auto',
              interpolation='bilinear', zorder=0)


def panel(ax, pos, val, color, ylim, ticks, labels, cy=0.0):
    peach(ax, ylim, cy)
    ax.axhline(0, color='#3a3a3a', lw=0.9, zorder=1)
    ax.scatter(pos, val, s=38, facecolors='none', edgecolors=color, linewidths=1.1,
               zorder=3, clip_on=False)
    ax.set_xlim(X0, X1)
    ax.set_ylim(*ylim)
    for s in ['top', 'right', 'bottom']:
        ax.spines[s].set_visible(False)
    ax.spines['left'].set_color('#707070')
    ax.spines['left'].set_linewidth(1.0)
    ax.set_xticks([])
    ax.set_yticks(ticks)
    ax.set_yticklabels(labels)
    ax.tick_params(axis='y', length=8, width=1.0, color='#707070', labelsize=12.5,
                   labelcolor='#333333', pad=3)
    ax.patch.set_alpha(0)


cols = [
    dict(left=258, title='East Asians', c_comp='#5B2A8E', c_pt='#7E72B4',
         comp=(comp_ea_pos, comp_ea_peaks), xp=xpehh_ea, fst=fst_ea, daf=daf_ea),
    dict(left=868, title='Europeans', c_comp='#B0122F', c_pt='#E2603F',
         comp=(comp_eu_pos, comp_eu_peaks), xp=xpehh_eu, fst=fst_eu, daf=daf_eu),
]

for col in cols:
    L = col['left']
    R = L + 502
    fig.text((L + 243) / W, 1 - 18 / H, col['title'], ha='center', va='center',
             fontsize=14, fontweight='bold', color='#222222')

    # composite score
    ax = add_ax(L, 64, R, 197)
    cpos, cpeaks = col['comp']
    pos = list(cpos) + [p[0] for p in cpeaks]
    val = list(np.zeros(len(cpos))) + [p[1] for p in cpeaks]
    panel(ax, pos, val, col['c_comp'], (0, 1e5), [0, 1e5], ['0', r'$10^5$'])

    # XP-EHH
    ax = add_ax(L, 245, R, 378)
    panel(ax, [p[0] for p in col['xp']], [p[1] for p in col['xp']], col['c_pt'],
          (-1.6, 4), [0, 4], ['0', '4'], cy=0.2)

    # FST
    ax = add_ax(L, 425, R, 561)
    panel(ax, [p[0] for p in col['fst']], [p[1] for p in col['fst']], col['c_pt'],
          (0, 0.8), [0, 0.8], ['0', '0.8'])

    # DAF
    ax = add_ax(L, 610, R, 741)
    panel(ax, [p[0] for p in col['daf']], [p[1] for p in col['daf']], col['c_pt'],
          (0, 1), [0, 1], ['0', '1'])

    # gene track
    gx = add_ax(L, 770, R, 852)
    gx.set_xlim(X0, X1)
    gx.set_ylim(0, 1)
    for s in ['top', 'right', 'left']:
        gx.spines[s].set_visible(False)
    gx.spines['bottom'].set_color('#555555')
    gx.set_yticks([])
    gx.set_xticks(tick_pos)
    gx.set_xticklabels(tick_lab)
    gx.tick_params(axis='x', length=8, width=1.0, color='#555555', labelsize=12.5,
                   labelcolor='#333333', pad=6)
    gx.set_xlabel('Position on chromosome 16 (Mb)', fontsize=14, color='#333333', labelpad=8)
    gx.xaxis.set_label_coords(0.46, -0.56)
    gx.patch.set_alpha(0)
    for name, s, e, row, side in zip(genes, gene_start, gene_end, gene_row, gene_label_side):
        yc = 0.317 + row * 0.403
        gx.add_patch(Rectangle((s, yc - 0.075), e - s, 0.15, facecolor='#EC8D4B',
                               edgecolor='#4a3020', lw=0.9, zorder=3))
        gx.add_patch(Rectangle((s, yc - 0.03), e - s, 0.06, facecolor='#F4AE72',
                               edgecolor='none', zorder=4))
        if side == 'left':
            gx.text(s - 0.006, yc, name, ha='right', va='center', fontsize=14,
                    style='italic', color='#333333')
        else:
            gx.text(e + 0.005, yc, name, ha='left', va='center', fontsize=14,
                    style='italic', color='#333333')

    # vertical marker lines across all rows (y in pixels)
    ov = add_ax(L, 0, R, H)
    ov.set_xlim(X0, X1)
    ov.set_ylim(H, 0)
    ov.axis('off')
    ov.plot([nod2_line, nod2_line], [55, 745], color='#3b4b57', lw=1.8, ls=(0, (2.8, 2.0)))
    ov.plot([nod2_line, nod2_line], [745, 852], color='#9fb0bc', lw=1.8, ls=(0, (2.8, 2.0)))
    ov.plot([cyld_line, cyld_line], [55, 741], color='#3b4b57', lw=2.0)
    ov.plot([cyld_line, cyld_line], [741, 852], color='#a9b8c3', lw=2.0)

# row labels
row_y = [130, 301, 492, 671]
for lab, y in zip(row_labels, row_y):
    fig.text(10 / W, 1 - y / H, lab, ha='left', va='center', fontsize=14,
             color='#222222', linespacing=1.28)

fig.savefig('out.png', dpi=100)
